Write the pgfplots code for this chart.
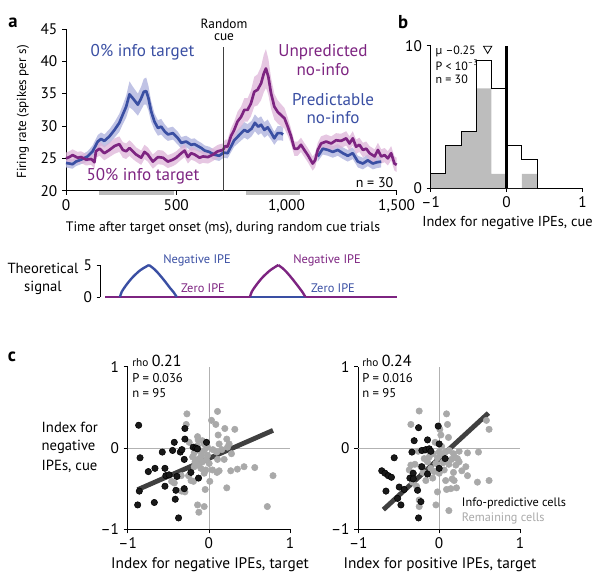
\documentclass[border=0pt]{standalone}
\usepackage{fontspec}
\setmainfont{PT Sans}
\usepackage{pgfplots}
\usepackage{pgfplotstable}
\pgfplotsset{compat=1.18}
\usepgfplotslibrary{fillbetween}

\definecolor{cblue}{HTML}{3A4FA3}
\definecolor{cpurp}{HTML}{7D2481}
\definecolor{bblue}{HTML}{B5B8E0}
\definecolor{bpurp}{HTML}{DDB4D8}
\definecolor{ptgray}{HTML}{A9A9A9}
\definecolor{fitgray}{HTML}{404040}
\definecolor{histgray}{HTML}{BDBDBD}

\pgfplotsset{
  every axis/.append style={scale only axis, anchor=south west,
    axis x line*=bottom, axis y line*=left, tick align=outside,
    major tick length=3pt, tick style={black, line width=0.5pt},
    axis line style={line width=0.5pt},
    every tick label/.append style={font=\fontsize{11.5}{12}\selectfont},
    clip=false, /pgf/number format/assume math mode=true},
}

\pgfplotstableread{
t m e
0 24.3 0.7
30 24.1 0.7
45 24.5 0.7
68 24.8 0.7
98 25.3 0.8
121 26.1 0.9
144 27.6 1.0
159 28.0 1.0
174 27.7 1.0
197 28.4 1.1
220 29.4 1.2
242 30.5 1.4
258 31.8 1.5
273 33.0 1.7
288 34.9 2.0
303 34.3 1.8
326 33.3 1.7
341 34.3 1.8
353 35.3 2.0
364 35.4 2.1
374 34.3 1.9
386 32.3 1.6
401 30.7 1.3
417 29.7 1.2
432 29.9 1.2
447 29.2 1.1
462 28.7 1.0
485 28.9 1.0
508 28.1 1.0
523 27.4 0.9
545 27.6 0.9
568 27.1 0.9
583 27.2 0.9
598 26.9 0.8
614 26.6 0.8
629 26.2 0.8
650 26.0 0.8
670 25.6 0.8
695 25.4 0.8
715 25.9 0.8
733 25.8 0.8
748 26.8 0.9
763 27.8 1.0
786 28.6 1.1
809 29.4 1.2
824 29.1 1.2
842 29.6 1.2
857 30.5 1.3
872 29.9 1.3
885 30.2 1.3
900 29.4 1.2
915 29.8 1.2
930 29.0 1.1
945 28.1 1.0
960 28.9 1.1
975 28.9 1.1
985 28.7 1.0
}\blueA

\pgfplotstableread{
t m e
1142 25.3 0.8
1165 26.5 0.9
1188 26.3 0.9
1210 26.0 0.9
1233 26.3 0.9
1256 25.8 0.9
1278 25.4 0.9
1301 25.8 0.9
1324 24.5 0.9
1347 24.2 0.9
1369 24.7 0.9
1392 24.2 0.9
1410 24.4 0.9
1430 24.5 0.9
}\blueB

\pgfplotstableread{
t m e
0 25.0 0.9
15 25.2 0.9
30 25.5 0.9
53 25.1 0.9
68 25.2 0.9
91 24.8 0.9
114 24.9 0.9
129 24.4 1.0
136 26.1 1.0
152 26.5 1.1
174 25.8 1.1
197 26.3 1.1
220 26.9 1.2
242 27.2 1.2
258 26.3 1.2
273 26.1 1.2
288 26.6 1.2
303 26.1 1.2
318 25.6 1.1
341 25.1 1.1
356 26.0 1.1
371 25.6 1.1
394 24.5 1.1
417 25.2 1.1
440 25.1 1.1
462 24.5 1.0
485 24.8 1.0
500 25.1 1.0
523 25.8 1.0
538 26.2 1.0
553 25.2 1.0
568 25.8 1.0
583 25.6 1.0
606 25.1 1.0
621 25.3 1.0
644 25.2 1.0
667 25.6 1.0
689 26.1 1.0
712 26.3 1.0
722 26.9 1.0
733 26.8 1.1
748 28.4 1.2
763 29.4 1.3
778 30.7 1.5
794 31.4 1.6
809 32.5 1.8
824 32.5 1.8
839 33.5 2.0
854 35.3 2.3
869 35.6 2.4
885 36.6 2.6
897 38.1 2.9
907 38.9 3.0
918 37.6 2.8
930 35.1 2.4
945 33.0 2.0
960 32.2 1.8
975 31.7 1.7
991 31.2 1.6
1006 29.9 1.4
1021 28.4 1.2
1036 26.5 1.1
1051 26.5 1.1
1066 27.1 1.1
1081 26.3 1.1
1097 25.5 1.1
1119 24.2 1.1
1130 24.7 1.1
1142 26.3 1.1
1157 27.3 1.1
1180 27.6 1.1
1203 27.3 1.1
1225 27.8 1.1
1248 27.7 1.1
1271 28.1 1.1
1286 27.3 1.1
1301 28.1 1.1
1316 26.8 1.1
1331 27.1 1.1
1347 26.3 1.1
1362 26.5 1.1
1377 25.8 1.1
1400 25.3 1.1
1415 26.3 1.1
1430 25.3 1.1
1445 25.5 1.1
1460 25.0 1.1
1475 25.8 1.1
1490 24.2 1.1
1500 24.0 1.1
}\purp

\begin{document}
\begin{tikzpicture}

% ---------- panel a ----------
\begin{axis}[at={(49.5pt,-143.03pt)}, width=248pt, height=121.28pt,
  xmin=0, xmax=1500, ymin=20, ymax=45,
  xtick={0,500,1000,1500}, xticklabels={0,500,{1,000},{1,500}},
  ytick={20,25,30,35,40,45}]
\addplot[histgray, line width=2.4pt] coordinates {(150,19.64) (490,19.64)};
\addplot[histgray, line width=2.4pt] coordinates {(816,19.64) (1063,19.64)};
\addplot[draw=none, name path=bAu] table[x=t, y expr=\thisrow{m}+\thisrow{e}] {\blueA};
\addplot[draw=none, name path=bAl] table[x=t, y expr=\thisrow{m}-\thisrow{e}] {\blueA};
\addplot[bblue, fill opacity=0.85] fill between[of=bAu and bAl];
\addplot[draw=none, name path=bBu] table[x=t, y expr=\thisrow{m}+\thisrow{e}] {\blueB};
\addplot[draw=none, name path=bBl] table[x=t, y expr=\thisrow{m}-\thisrow{e}] {\blueB};
\addplot[bblue, fill opacity=0.85] fill between[of=bBu and bBl];
\addplot[draw=none, name path=pu] table[x=t, y expr=\thisrow{m}+\thisrow{e}] {\purp};
\addplot[draw=none, name path=pl] table[x=t, y expr=\thisrow{m}-\thisrow{e}] {\purp};
\addplot[bpurp, fill opacity=0.75] fill between[of=pu and pl];
\addplot[cblue, line width=2pt, line join=round] table[x=t, y=m] {\blueA};
\addplot[cblue, line width=2pt, line join=round] table[x=t, y=m] {\blueB};
\addplot[cpurp, line width=2pt, line join=round] table[x=t, y=m] {\purp};
\addplot[black!75, line width=0.5pt] coordinates {(715,20) (715,42.2)};
\end{axis}

% ---------- panel b ----------
\begin{axis}[at={(323.0pt,-141pt)}, width=114pt, height=106.7pt,
  xmin=-1, xmax=1, ymin=0, ymax=10,
  xtick={-1,0,1}, xticklabels={--1,0,1}, ytick={0,10}]
\addplot[const plot, fill=histgray, draw=none] coordinates
  {(-1,1) (-0.8,3) (-0.6,4) (-0.4,7) (-0.2,1) (0,0) (0.2,1) (0.4,1)} \closedcycle;
\addplot[const plot, black, line width=0.6pt] coordinates
  {(-1,0) (-1,1) (-0.8,3) (-0.6,4) (-0.4,9) (-0.2,7) (0,3) (0.2,2) (0.4,2) (0.4,0)};
\addplot[black, line width=2.2pt] coordinates {(0,0) (0,10)};
\addplot[only marks, mark=triangle, mark size=3.6pt, mark options={rotate=180, black, fill=white, line width=0.6pt}] coordinates {(-0.25,9.8)};
\end{axis}

% ---------- theoretical signal ----------
\begin{axis}[at={(75pt,-222.75pt)}, width=222.5pt, height=24pt,
  xmin=151.4, xmax=1500, ymin=0, ymax=5, axis x line=none,
  ytick={0,5}, major tick length=2.5pt]
\addplot[cpurp, line width=1.8pt] coordinates {(175,0) (1500,0)};
\addplot[cblue, line width=1.8pt] coordinates {(833,0) (1087,0)};
\addplot[cblue, line width=1.8pt, smooth] coordinates {(242,0) (250,0.8) (265,1.6) (285,2.5) (303,3.2) (335,4.2) (374,5)};
\addplot[cblue, line width=1.8pt, smooth] coordinates {(374,5) (400,4.3) (424,3.4) (450,2.3) (470,1.4) (487,0.7) (500,0)};
\addplot[cpurp, line width=1.8pt, smooth] coordinates {(833,0) (841,0.8) (856,1.6) (876,2.5) (894,3.2) (926,4.2) (962,5)};
\addplot[cpurp, line width=1.8pt, smooth] coordinates {(962,5) (988,4.3) (1012,3.4) (1038,2.3) (1058,1.4) (1073,0.7) (1085,0)};
\end{axis}

% ---------- panel c left ----------
\begin{axis}[at={(95.78pt,-396.98pt)}, width=121.7pt, height=121.95pt,
  xmin=-1, xmax=1, ymin=-1, ymax=1,
  xtick={-1,0,1}, xticklabels={--1,0,1}, ytick={-1,0,1}, yticklabels={--1,0,1}]
\addplot[black!30, line width=0.5pt] coordinates {(0,-1) (0,1)};
\addplot[black!30, line width=0.5pt] coordinates {(-1,0) (1,0)};
\addplot[only marks, mark=*, mark size=2.4pt, ptgray, mark options={draw=none, fill=ptgray}] coordinates {
(-0.27,0.42) (0.107,0.45) (-0.279,0.29) (0.033,0.34) (0.086,0.29) (0.197,0.24) (0.32,0.23)
(-0.139,0.14) (-0.131,0.10) (0.115,0.16) (0.221,0.11) (0.127,0.05) (0.25,0.05) (-0.057,0.05)
(-0.242,0.07) (-0.18,-0.06) (-0.119,-0.03) (-0.057,-0.03) (-0.09,-0.09) (-0.016,-0.09)
(0.098,-0.05) (0.23,0.01) (0.279,-0.07) (0.107,-0.14) (0.189,-0.14) (-0.16,-0.15)
(-0.127,-0.21) (-0.078,-0.17) (-0.18,-0.23) (-0.098,-0.25) (-0.037,-0.27) (0.045,-0.27)
(0.127,-0.28) (0.27,-0.28) (0.352,-0.26) (0.434,-0.23) (0.566,-0.24) (0.791,-0.34)
(0.221,-0.49) (0.012,-0.41) (-0.045,-0.51) (-0.189,-0.41) (-0.459,-0.41) (-0.426,-0.43)
(-0.295,-0.54) (-0.336,-0.53) (-0.139,-0.70) (-0.057,-0.72) (-0.123,-0.79) (0.721,-0.72)
(-0.25,-0.34) (-0.34,-0.34) (-0.016,0.01) (-0.12,-0.13) (-0.2,-0.11) (-0.057,-0.31)
(0.004,-0.19) (-0.14,0.03) (-0.08,0.09) (0.05,-0.02) (0.16,-0.02) (-0.22,-0.4)
(0.1,-0.3) (-0.03,-0.14) (-0.17,-0.17)};
\addplot[fitgray, line width=3.6pt] coordinates {(-0.877,-0.512) (0.791,0.217)};
\addplot[only marks, mark=*, mark size=2.4pt, black, mark options={draw=none, fill=black!90}] coordinates {
(-0.865,0.28) (-0.848,-0.12) (-0.857,-0.53) (-0.877,-0.70) (-0.746,-0.29) (-0.664,-0.25)
(-0.672,-0.67) (-0.574,-0.05) (-0.541,-0.25) (-0.53,-0.34) (-0.49,-0.33) (-0.541,-0.47)
(-0.447,-0.03) (-0.426,0.07) (-0.393,-0.35) (-0.406,-0.52) (-0.414,-0.63) (-0.373,-0.86)
(-0.352,-0.05) (-0.332,-0.02) (-0.295,0.24) (-0.295,0.11) (-0.303,-0.14) (-0.303,-0.50)
(-0.221,-0.30) (-0.193,0.01) (-0.16,0.0) (-0.14,-0.01) (-0.127,-0.37) (-0.029,0.07)};
\end{axis}

% ---------- panel c right ----------
\begin{axis}[at={(268.73pt,-396.98pt)}, width=121.3pt, height=121.95pt,
  xmin=-1, xmax=1, ymin=-1, ymax=1,
  xtick={-1,0,1}, xticklabels={--1,0,1}, ytick={-1,0,1}, yticklabels={--1,0,1}]
\addplot[black!30, line width=0.5pt] coordinates {(0,-1) (0,1)};
\addplot[black!30, line width=0.5pt] coordinates {(-1,0) (1,0)};
\addplot[only marks, mark=*, mark size=2.4pt, ptgray, mark options={draw=none, fill=ptgray}] coordinates {
(-0.247,0.455) (0.091,0.42) (-0.35,0.29) (0.103,0.29) (0.008,0.23) (0.021,0.16) (0.115,0.13)
(0.584,0.34) (0.617,0.23) (-0.185,-0.13) (-0.123,-0.11) (-0.074,-0.07) (-0.041,-0.19)
(0.041,-0.09) (0.074,-0.05) (0.123,-0.03) (0.177,-0.07) (0.247,-0.04) (0.35,-0.06)
(0.486,-0.05) (0.226,-0.13) (0.247,-0.17) (0.206,-0.21) (0.177,-0.30) (0.185,-0.40)
(0.33,-0.23) (0.35,-0.34) (0.473,-0.42) (0.617,-0.40) (0.091,-0.51) (0.144,-0.50)
(0.214,-0.49) (-0.021,-0.54) (-0.247,-0.72) (-0.04,-0.70) (0.12,-0.77) (-0.35,-0.21)
(-0.37,-0.27) (-0.33,-0.42) (-0.226,-0.23) (-0.144,-0.17) (-0.103,-0.25) (-0.062,-0.29)
(0.0,-0.31) (0.062,-0.27) (0.08,-0.40) (-0.165,-0.40) (-0.247,-0.64) (-0.28,-0.47)
(0.16,-0.38) (-0.02,-0.12) (-0.11,-0.06) (0.03,0.02) (-0.18,-0.03) (-0.3,-0.2)
(0.12,-0.2) (0.28,-0.28) (-0.05,0.07) (0.2,-0.12) (0.15,-0.14) (-0.08,-0.37)
(0.05,-0.18) (-0.26,-0.04) (0.0,-0.05) (-0.2,-0.3)};
\addplot[fitgray, line width=3.6pt] coordinates {(-0.69,-0.758) (0.609,0.43)};
\addplot[only marks, mark=*, mark size=2.4pt, black, mark options={draw=none, fill=black!90}] coordinates {
(-0.71,-0.28) (-0.67,-0.31) (-0.63,-0.34) (-0.59,-0.36) (-0.556,-0.12) (-0.658,-0.53)
(-0.494,-0.48) (-0.514,-0.62) (-0.473,-0.70) (-0.432,-0.51) (-0.362,-0.37) (-0.321,-0.31)
(-0.309,0.09) (-0.255,0.25) (-0.267,-0.52) (-0.226,-0.66) (-0.255,-0.86) (-0.214,-0.23)
(-0.337,-0.05) (-0.214,-0.03) (-0.165,-0.02) (-0.123,-0.01) (-0.103,-0.04) (-0.144,0.10)
(-0.144,-0.32) (-0.012,0.27) (0.0,0.05) (0.074,-0.13) (0.0,-0.25) (-0.32,-0.38)};
\end{axis}

% ---------- text ----------
\begin{scope}[x=0.75pt, y=-0.75pt]
\node[font=\fontsize{14}{14}\selectfont\bfseries] at (13,23) {a};
\node[font=\fontsize{14}{14}\selectfont\bfseries] at (403,22) {b};
\node[font=\fontsize{14}{14}\selectfont\bfseries] at (12,357) {c};
\node[rotate=90, font=\fontsize{9.8}{10}\selectfont] at (23,112) {Firing rate (spikes per s)};
\node[text=cblue, font=\fontsize{12.8}{13}\selectfont] at (142.5,52) {0\% info target};
\node[text=cpurp, font=\fontsize{12.8}{13}\selectfont] at (143,176) {50\% info target};
\node[text=cpurp, font=\fontsize{12.8}{13}\selectfont] at (323,52) {Unpredicted};
\node[text=cpurp, font=\fontsize{12.8}{13}\selectfont] at (323,70) {no-info};
\node[text=cblue, font=\fontsize{12.8}{13}\selectfont] at (333,100) {Predictable};
\node[text=cblue, font=\fontsize{12.8}{13}\selectfont] at (333,118) {no-info};
\node[font=\fontsize{10}{10}\selectfont] at (224,24) {Random};
\node[font=\fontsize{10}{10}\selectfont] at (224,37) {cue};
\node[anchor=east, font=\fontsize{10.5}{11}\selectfont] at (398,183) {n = 30};
\node[font=\fontsize{10.3}{11}\selectfont] at (223,228) {Time after target onset (ms), during random cue trials};
\node[anchor=west, font=\fontsize{9}{9}\selectfont] at (431,51) {µ --0.25};
\node[anchor=west, font=\fontsize{9}{9}\selectfont] at (431,65) {P < 10\textsuperscript{--3}};
\node[anchor=west, font=\fontsize{9}{9}\selectfont] at (431,79) {n = 30};
\node[font=\fontsize{10.8}{11}\selectfont] at (507.5,223) {Index for negative IPEs, cue};
\node[font=\fontsize{11}{11}\selectfont] at (43,268) {Theoretical};
\node[font=\fontsize{11}{11}\selectfont] at (43,288) {signal};
\node[text=cblue, font=\fontsize{9.3}{9}\selectfont] at (197,260) {Negative IPE};
\node[text=cpurp, font=\fontsize{9.3}{9}\selectfont] at (203,288) {Zero IPE};
\node[text=cpurp, font=\fontsize{9.3}{9}\selectfont] at (327,260) {Negative IPE};
\node[text=cblue, font=\fontsize{9.3}{9}\selectfont] at (333,288) {Zero IPE};
\node[anchor=west, font=\fontsize{11}{11}\selectfont] at (37,427) {Index for};
\node[anchor=west, font=\fontsize{11}{11}\selectfont] at (37,447) {negative};
\node[anchor=west, font=\fontsize{11}{11}\selectfont] at (37,466) {IPEs, cue};
\node[font=\fontsize{11.5}{12}\selectfont] at (210,565) {Index for negative IPEs, target};
\node[font=\fontsize{11.5}{12}\selectfont] at (440,565) {Index for positive IPEs, target};
\node[anchor=base west, inner sep=0pt] at (132,366) {{\fontsize{8.5}{8}\selectfont rho} {\fontsize{12}{11}\selectfont 0.21}};
\node[anchor=west, inner sep=0pt, font=\fontsize{9.5}{9}\selectfont] at (132,378) {P = 0.036};
\node[anchor=west, inner sep=0pt, font=\fontsize{9.5}{9}\selectfont] at (132,393) {n = 95};
\node[anchor=base west, inner sep=0pt] at (362,366) {{\fontsize{8.5}{8}\selectfont rho} {\fontsize{12}{11}\selectfont 0.24}};
\node[anchor=west, inner sep=0pt, font=\fontsize{9.5}{9}\selectfont] at (362,378) {P = 0.016};
\node[anchor=west, inner sep=0pt, font=\fontsize{9.5}{9}\selectfont] at (362,393) {n = 95};
\node[anchor=west, inner sep=0pt, font=\fontsize{9.2}{9}\selectfont] at (461.7,503.3) {Info-predictive cells};
\node[anchor=west, inner sep=0pt, text=ptgray, font=\fontsize{9.2}{9}\selectfont] at (461.7,518.3) {Remaining cells};
\end{scope}
\pgfresetboundingbox
\path[use as bounding box] (0pt,0pt) rectangle (450pt,-434.25pt);
\end{tikzpicture}
\end{document}
